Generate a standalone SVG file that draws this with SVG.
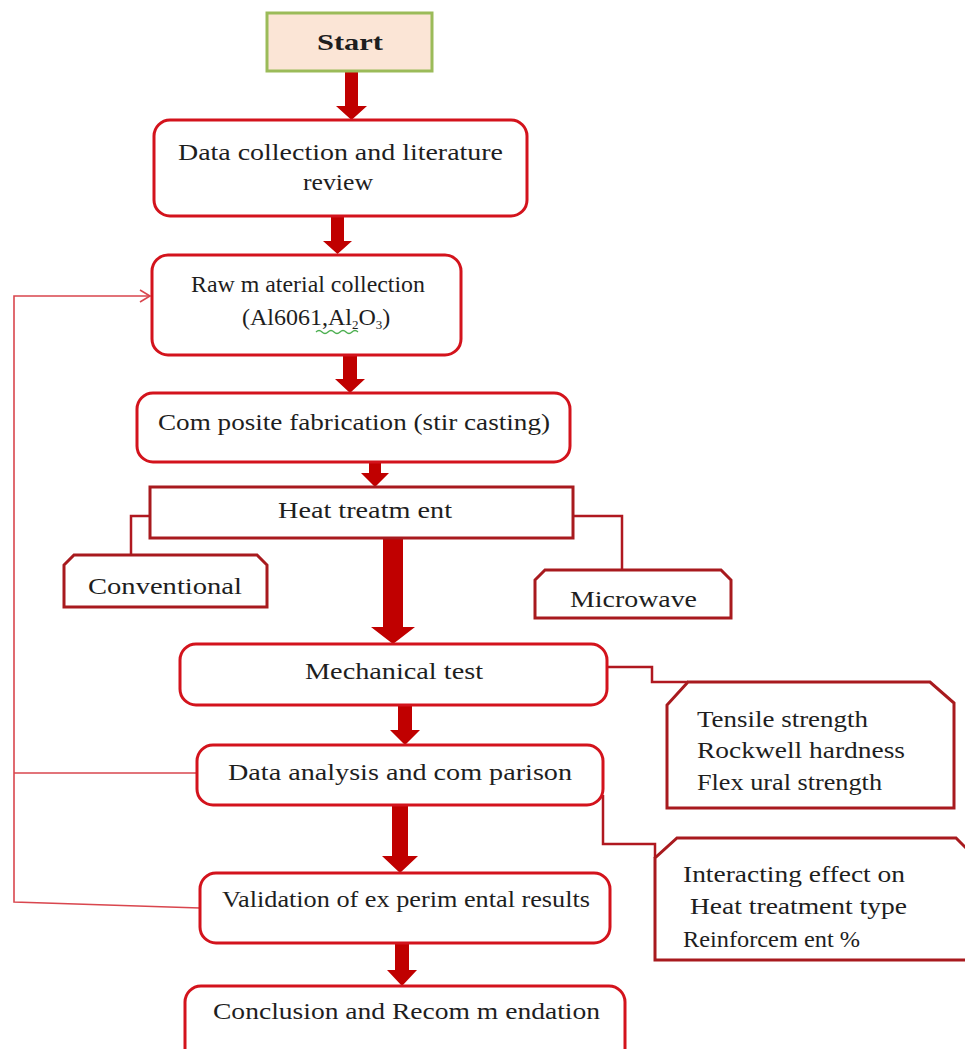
<svg xmlns="http://www.w3.org/2000/svg" width="965" height="1049" viewBox="0 0 965 1049">
<style>
.t{font-family:"Liberation Serif","Times New Roman",serif;font-size:24px;fill:#1e1e1e}
.b{fill:#fff;stroke:#d3131c;stroke-width:3}
.d{fill:#fff;stroke:#a81a1e;stroke-width:3}
.ar{fill:#c00000}
.fb{fill:none;stroke:#d9464e;stroke-width:1.6}
.cn{fill:none;stroke:#b01820;stroke-width:2.5}
</style>
<rect width="965" height="1049" fill="#fff"/>
<g id="connectors">
  <polygon class="ar" points="345,71 358,71 358,106 367,106 351.5,120 336,106 345,106"/>
  <polygon class="ar" points="331,217 344,217 344,241 352,241 337.5,254 323,241 331,241"/>
  <polygon class="ar" points="343,356 357,356 357,379 365,379 350,393 335,379 343,379"/>
  <polygon class="ar" points="369,463 381,463 381,473 389,473 375,487 361,473 369,473"/>
  <polygon class="ar" points="383,539 403,539 403,627 415,627 393,644 371,627 383,627"/>
  <polygon class="ar" points="398,706 412,706 412,730 420,730 405,745 390,730 398,730"/>
  <polygon class="ar" points="392,806 408,806 408,856 418,856 400,873 382,856 392,856"/>
  <polygon class="ar" points="395,944 409,944 409,970 417,970 402,986 387,970 395,970"/>
  <polyline class="cn" points="150,516 131,516 131,555"/>
  <polyline class="cn" points="573,516 622,516 622,570"/>
  <polyline class="cn" points="607,667 652,667 652,682 688,682"/>
  <polyline class="cn" points="603,795 603,844 655,844 655,858"/>
  <polyline class="fb" points="197,773 14,773"/>
  <polyline class="fb" points="150,296 14,296 14,902 200,908"/>
  <polyline class="fb" points="140,290 150,296 140,302"/>
</g>
<g id="start">
  <rect x="267" y="13" width="165" height="58" fill="#fbe5d6" stroke="#9bbb59" stroke-width="3"/>
  <text class="t" x="317" y="50" font-weight="bold" font-size="26" textLength="66" lengthAdjust="spacingAndGlyphs">Start</text>
</g>
<g id="data-collection">
  <rect class="b" x="154" y="120" width="373" height="96" rx="16"/>
  <text class="t" x="178" y="160" textLength="325" lengthAdjust="spacingAndGlyphs">Data collection and literature</text>
  <text class="t" x="303" y="190" textLength="70" lengthAdjust="spacingAndGlyphs">review</text>
</g>
<g id="raw-material">
  <rect class="b" x="152" y="255" width="309" height="100" rx="16"/>
  <text class="t" x="191" y="292" textLength="234" lengthAdjust="spacingAndGlyphs">Raw m aterial collection</text>
  <text class="t" x="242" y="325" font-size="19.5">(Al6061,Al<tspan font-size="13" dy="4">2</tspan><tspan dy="-4">O</tspan><tspan font-size="13" dy="4">3</tspan><tspan dy="-4">)</tspan></text>
  <path d="M316,332 q3,-3 6,0 t6,0 t6,0 t6,0 t6,0 t6,0 t6,0" fill="none" stroke="#4caf50" stroke-width="1.3"/>
</g>
<g id="composite">
  <rect class="b" x="137" y="393" width="433" height="69" rx="16"/>
  <text class="t" x="158" y="430" textLength="392" lengthAdjust="spacingAndGlyphs">Com posite fabrication (stir casting)</text>
</g>
<g id="heat-treatment">
  <rect class="d" x="150" y="487" width="423" height="51"/>
  <text class="t" x="278" y="518" textLength="174" lengthAdjust="spacingAndGlyphs">Heat treatm ent</text>
</g>
<g id="conventional">
  <path class="d" d="M64,565 L74,555 L257,555 L267,565 L267,607 L64,607 Z"/>
  <text class="t" x="88" y="594" textLength="154" lengthAdjust="spacingAndGlyphs">Conventional</text>
</g>
<g id="microwave">
  <path class="d" d="M535,580 L545,570 L721,570 L731,580 L731,618 L535,618 Z"/>
  <text class="t" x="570" y="607" textLength="127" lengthAdjust="spacingAndGlyphs">Microwave</text>
</g>
<g id="mechanical-test">
  <rect class="b" x="180" y="644" width="427" height="61" rx="16"/>
  <text class="t" x="305" y="679" textLength="178" lengthAdjust="spacingAndGlyphs">Mechanical test</text>
</g>
<g id="tests">
  <polygon class="d" points="688,682 930,682 954,703 954,808 667,808 667,705"/>
  <text class="t" x="697" y="727" textLength="171" lengthAdjust="spacingAndGlyphs">Tensile strength</text>
  <text class="t" x="697" y="758" textLength="208" lengthAdjust="spacingAndGlyphs">Rockwell hardness</text>
  <text class="t" x="697" y="790" textLength="185" lengthAdjust="spacingAndGlyphs">Flex ural strength</text>
</g>
<g id="data-analysis">
  <rect class="b" x="197" y="745" width="406" height="60" rx="16"/>
  <text class="t" x="228" y="780" textLength="344" lengthAdjust="spacingAndGlyphs">Data analysis and com parison</text>
</g>
<g id="interacting">
  <polygon class="d" points="677,838 956,838 968,850 968,960 655,960 655,858"/>
  <text class="t" x="683" y="882" textLength="222" lengthAdjust="spacingAndGlyphs">Interacting effect on</text>
  <text class="t" x="690" y="914" textLength="217" lengthAdjust="spacingAndGlyphs">Heat treatment type</text>
  <text class="t" x="683" y="947" textLength="177" lengthAdjust="spacingAndGlyphs">Reinforcem ent %</text>
</g>
<g id="validation">
  <rect class="b" x="200" y="873" width="410" height="70" rx="16"/>
  <text class="t" x="222" y="907" textLength="368" lengthAdjust="spacingAndGlyphs">Validation of ex perim ental results</text>
</g>
<g id="conclusion">
  <rect class="b" x="185" y="986" width="440" height="80" rx="16"/>
  <text class="t" x="213" y="1019" textLength="387" lengthAdjust="spacingAndGlyphs">Conclusion and Recom m endation</text>
</g>
</svg>
